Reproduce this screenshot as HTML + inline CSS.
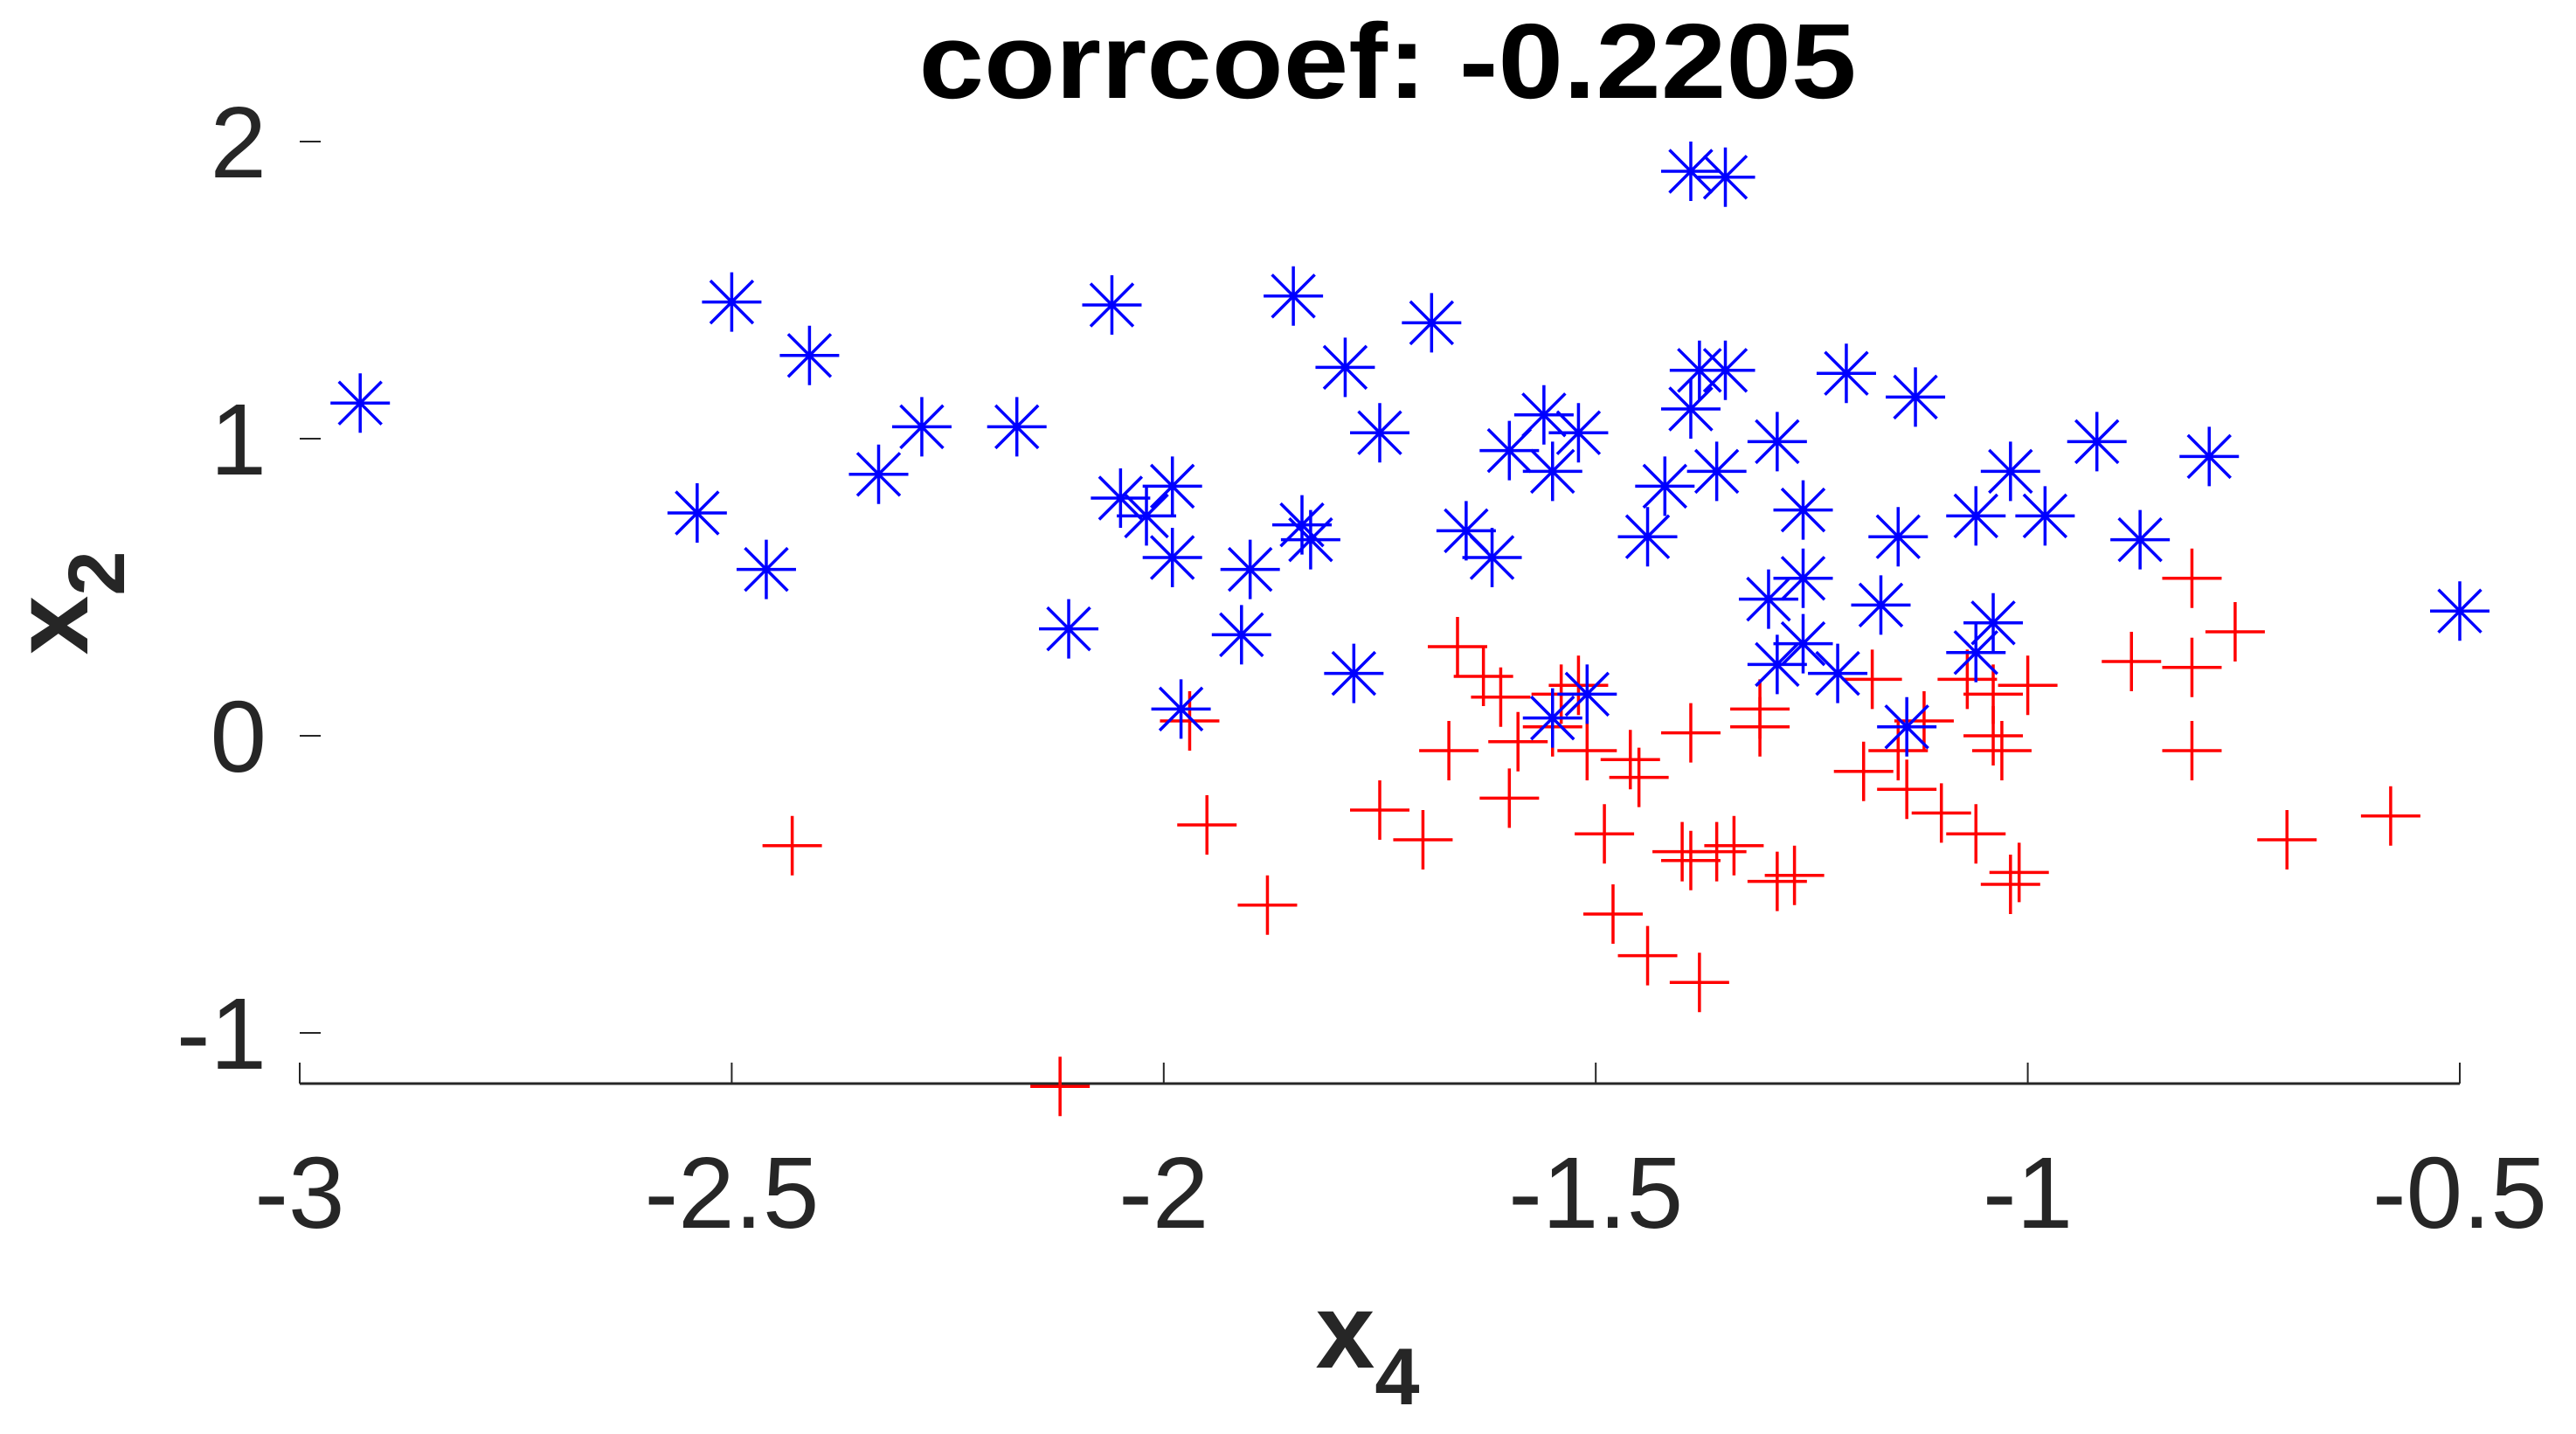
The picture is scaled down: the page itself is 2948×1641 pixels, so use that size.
<!DOCTYPE html>
<html><head><meta charset="utf-8"><style>
html,body{margin:0;padding:0;background:#fff;}
svg{display:block;}
text{font-family:"Liberation Sans",Arial,sans-serif;fill:#262626;}
</style></head><body>
<svg id="chart" width="2948" height="1641" viewBox="0 0 2948 1641" xmlns="http://www.w3.org/2000/svg">
<text x="1588" y="112" text-anchor="middle" font-size="122" font-weight="bold" textLength="1073" lengthAdjust="spacingAndGlyphs" style="fill:#000">corrcoef: -0.2205</text>
<g id="axes"></g>
<g id="marks"></g>
<text x="1565" y="1565" text-anchor="middle" font-size="122" font-weight="bold">x<tspan font-size="92" dy="42">4</tspan></text>
<text transform="translate(100,690) rotate(-90)" text-anchor="middle" font-size="122" font-weight="bold">x<tspan font-size="92" dy="42">2</tspan></text>
</svg>
<script>
const xTicks=[-3,-2.5,-2,-1.5,-1,-0.5];
const xTickLabels=["-3","-2.5","-2","-1.5","-1","-0.5"];
const yTicks=[-1,0,1,2];
const yTickLabels=["-1","0","1","2"];
const blueX=[-2.93,-2.50,-2.41,-2.28,-2.33,-2.54,-2.46,-2.17,-2.06,-1.85,-1.79,-1.69,-1.39,-1.35,-2.05,-1.99,-2.02,-1.99,-1.90,-2.11,-1.91,-1.98,-1.78,-1.84,-1.83,-1.75,-1.65,-1.62,-1.60,-1.56,-1.55,-1.52,-1.55,-1.51,-1.39,-1.38,-1.35,-1.36,-1.42,-1.44,-1.29,-1.21,-1.13,-1.26,-1.15,-1.30,-1.26,-1.17,-1.29,-1.26,-1.22,-1.14,-1.06,-1.02,-0.98,-0.92,-0.79,-0.87,-1.04,-1.06,-0.50];
const blueY=[1.12,1.46,1.28,1.04,0.88,0.75,0.56,1.04,1.45,1.48,1.24,1.39,1.90,1.88,0.80,0.84,0.74,0.60,0.56,0.36,0.34,0.09,0.21,0.71,0.66,1.02,0.69,0.60,0.96,1.08,0.89,1.02,0.06,0.14,1.10,1.23,1.23,0.89,0.84,0.67,0.99,1.22,1.14,0.76,0.67,0.46,0.53,0.44,0.24,0.31,0.21,0.03,0.74,0.89,0.74,0.99,0.94,0.66,0.38,0.28,0.42];
const redX=[-2.43,-2.12,-1.97,-1.95,-1.88,-1.75,-1.70,-1.66,-1.67,-1.63,-1.60,-1.61,-1.59,-1.55,-1.54,-1.52,-1.51,-1.49,-1.48,-1.46,-1.45,-1.44,-1.39,-1.40,-1.38,-1.39,-1.36,-1.34,-1.31,-1.31,-1.29,-1.27,-1.18,-1.19,-1.15,-1.14,-1.10,-1.12,-1.07,-1.04,-1.04,-1.03,-1.02,-1.01,-1.00,-0.88,-0.81,-0.81,-0.81,-0.76,-0.70,-0.58,-1.06];
const redY=[-0.37,-1.18,0.05,-0.30,-0.57,-0.25,-0.35,0.30,-0.05,0.20,-0.21,0.13,-0.02,0.03,0.14,0.17,-0.05,-0.33,-0.60,-0.08,-0.14,-0.74,0.01,-0.39,-0.83,-0.42,-0.39,-0.37,0.09,0.03,-0.49,-0.47,0.19,-0.12,-0.05,-0.18,-0.26,0.05,0.19,0.14,0.00,-0.05,-0.50,-0.46,0.17,0.25,0.53,0.23,-0.05,0.35,-0.35,-0.27,-0.33];

const NS="http://www.w3.org/2000/svg";
const X0=343,X1=2815,XMIN=-3,XMAX=-0.5;
const YZERO=842,YUNIT=340,YBOT=1240;
function sx(v){return X0+(v-XMIN)/(XMAX-XMIN)*(X1-X0);}
function sy(v){return YZERO-v*YUNIT;}
function mk(tag,attrs,parent){const e=document.createElementNS(NS,tag);for(const k in attrs)e.setAttribute(k,attrs[k]);parent.appendChild(e);return e;}
const axes=document.getElementById('axes');
const marks=document.getElementById('marks');
const xl=mk('line',{x1:X0,y1:YBOT,x2:X1,y2:YBOT,stroke:'#262626','stroke-width':3},axes);


xTicks.forEach((t,i)=>{
  const tk=mk('line',{x1:sx(t),y1:YBOT,x2:sx(t),y2:YBOT-24,stroke:'#262626','stroke-width':2},axes);
  
  
  const lb=mk('text',{x:sx(t),y:1405,'text-anchor':'middle','font-size':116},axes);
  lb.textContent=xTickLabels[i];
  
  
});
yTicks.forEach((t,i)=>{
  const tk=mk('line',{x1:X0,y1:sy(t),x2:X0+24,y2:sy(t),stroke:'#262626','stroke-width':2},axes);
  
  
  const lb=mk('text',{x:305,y:sy(t)+41,'text-anchor':'end','font-size':116},axes);
  lb.textContent=yTickLabels[i];
  
  
});
const R=34;
redX.forEach((v,i)=>{
  const cx=sx(v),cy=sy(redY[i]);
  const p=mk('path',{d:`M${cx-R},${cy}H${cx+R}M${cx},${cy-R}V${cy+R}`,stroke:'#ff0000','stroke-width':3.5,fill:'none'},marks);
  
  
});
blueX.forEach((v,i)=>{
  const cx=sx(v),cy=sy(blueY[i]);
  const d=R*0.72;
  const p=mk('path',{d:`M${cx-R},${cy}H${cx+R}M${cx},${cy-R}V${cy+R}M${cx-d},${cy-d}L${cx+d},${cy+d}M${cx-d},${cy+d}L${cx+d},${cy-d}`,stroke:'#0000ff','stroke-width':3.5,fill:'none'},marks);
  
  
});
</script>
</body></html>
